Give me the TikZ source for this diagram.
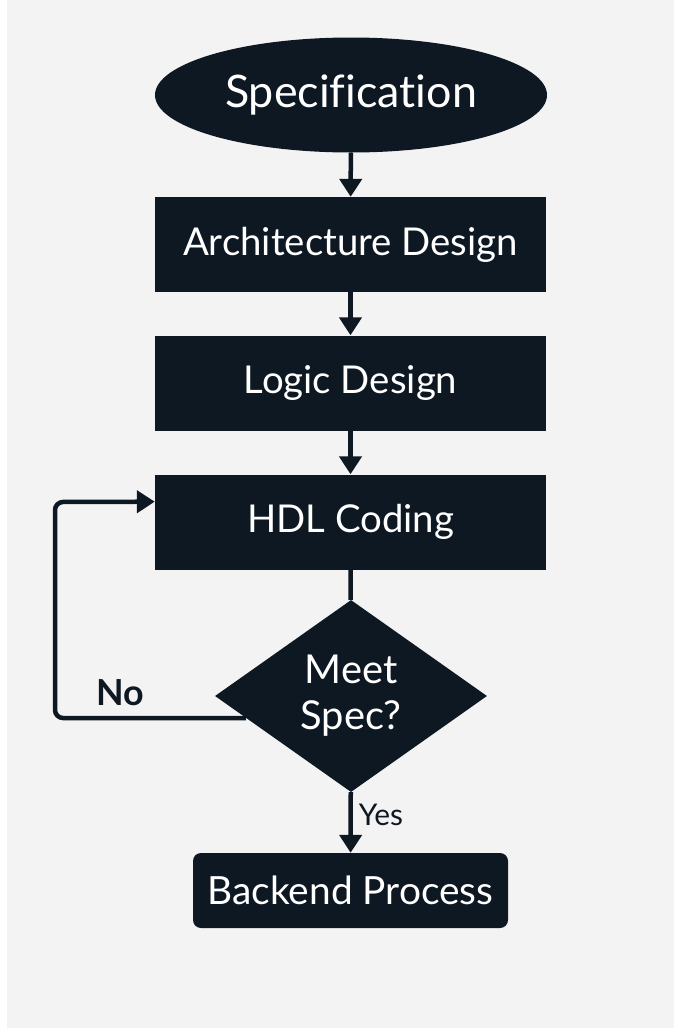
\documentclass[tikz,border=0pt]{standalone}
\usepackage{fontspec}
\setmainfont{Lato}[Ligatures=NoCommon]
\usetikzlibrary{shapes.geometric,arrows.meta,calc}
\definecolor{navy}{HTML}{0E1822}
\definecolor{bg}{HTML}{F3F3F3}
\tikzset{
  blk/.style={fill=navy, draw=none, text=white, inner sep=0pt, font=\fontsize{38.5}{42}\selectfont},
  procbox/.style={blk, rectangle, minimum width=391bp, minimum height=95bp},
  conn/.style={draw=navy, line width=4.5bp},
  arr/.style={conn, -{Triangle[width=22bp,length=18bp]}},
  lbl/.style={text=navy, inner sep=0pt}
}
\begin{document}
\begin{tikzpicture}[x=1bp,y=1bp]
\useasboundingbox (0,0) rectangle (680,-1028);
\fill[white] (0,0) rectangle (680,-1028);
\fill[bg] (7,0) rectangle (674,-1028);
\node[blk, ellipse, minimum width=392bp, minimum height=115bp, font=\fontsize{45}{50}\selectfont] (spec) at (351,-95) {Specification};
\node[procbox] (arch) at (350.5,-244.5) {Architecture Design};
\node[procbox] (logic) at (350.5,-383) {Logic Design};
\node[procbox] (hdl) at (350.5,-522) {HDL Coding};
\node[blk, diamond, aspect=1.417, minimum width=272bp, minimum height=192bp, align=center, font=\fontsize{40}{46}\selectfont] (dec) at (351,-696) {Meet\\Spec?};
\node[blk, rectangle, rounded corners=8bp, minimum width=315bp, minimum height=75bp, font=\fontsize{39}{42}\selectfont] (back) at (350.5,-890.5) {Backend Process};
\coordinate (nostart) at ($(dec.west)!0.229!(dec.south)$);
\coordinate (nocorner) at (55,-718);
\coordinate (upcorner) at (55,-502);
\coordinate (noin) at ($(hdl.north west)!0.287!(hdl.south west)$);
\draw[arr] (spec) -- (arch);
\draw[arr] (arch) -- (logic);
\draw[arr] (logic) -- (hdl);
\draw[conn] (hdl) -- (dec);
\draw[arr] (dec) -- node[lbl, right=6bp, pos=0.38, font=\fontsize{30}{32}\selectfont] (yes) {Yes} (back);
\draw[arr, rounded corners=8bp] (nostart) -- (nocorner) -- (upcorner) -- (noin);
\node[lbl, font=\bfseries\fontsize{36}{38}\selectfont] (no) at (120,-693) {No};
\end{tikzpicture}
\end{document}
